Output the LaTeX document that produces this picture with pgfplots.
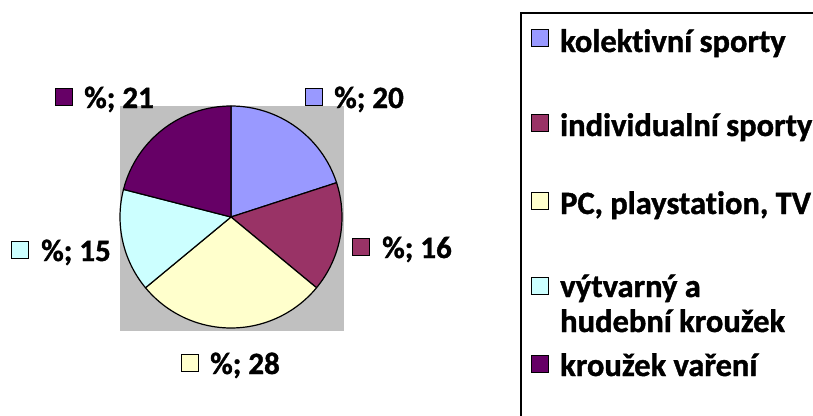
\documentclass[border=0pt]{standalone}
\usepackage{pgfplots}
\usepackage{pgfplotstable}
\pgfplotsset{compat=1.18}
\usepackage{fontspec}
\setmainfont[Ligatures=NoCommon, BoldFeatures={FakeBold=1.2}]{Carlito}
\definecolor{cKol}{HTML}{9999FF}
\definecolor{cInd}{HTML}{993366}
\definecolor{cPC}{HTML}{FFFFCC}
\definecolor{cVyt}{HTML}{CCFFFF}
\definecolor{cVar}{HTML}{660066}
\definecolor{plotgray}{HTML}{C0C0C0}

% share in %, clockwise from 12 o'clock
\pgfplotstableread{
val col
20 cKol
16 cInd
28 cPC
15 cVyt
21 cVar
}\piedata

\begin{document}
\begin{tikzpicture}[font=\fontsize{31}{37}\selectfont\bfseries,
  key/.style={draw=black, line width=1.3pt, minimum size=17pt, inner sep=0pt, anchor=south west},
  lbl/.style={anchor=base west, inner sep=0pt},
  leg/.style={anchor=base west, inner sep=0pt, font=\fontsize{32.5}{39}\selectfont\bfseries}]
\begin{axis}[width=813pt, height=415pt, scale only axis,
  xmin=0, xmax=813, ymin=0, ymax=415, y dir=reverse,
  hide axis, clip=false]
  % plot area
  \fill[plotgray] (axis cs:120,106) rectangle (axis cs:344,331);
  \pgfplotsextra{
    \gdef\angA{90}
    \foreach \i in {0,...,4}{
      \pgfplotstablegetelem{\i}{val}\of\piedata \let\v\pgfplotsretval
      \pgfplotstablegetelem{\i}{col}\of\piedata \let\c\pgfplotsretval
      \pgfmathsetmacro\angB{\angA-3.6*\v}
      \filldraw[fill=\c, draw=black, line width=1.2pt, line join=round]
        (axis cs:231,217) -- ++(\angA:111pt)
        arc[start angle=\angA, end angle=\angB, radius=111pt] -- cycle;
      \xdef\angA{\angB}
    }
  }
  % data labels
  \node[key, fill=cKol] at (axis cs:305,106) {};
  \node[lbl] at (axis cs:334,108) {\%; 20};
  \node[key, fill=cVar] at (axis cs:55,106) {};
  \node[lbl] at (axis cs:84,108) {\%; 21};
  \node[key, fill=cVyt] at (axis cs:11,259) {};
  \node[lbl] at (axis cs:41,261) {\%; 15};
  \node[key, fill=cInd] at (axis cs:352,256) {};
  \node[lbl] at (axis cs:382,258) {\%; 16};
  \node[key, fill=cPC] at (axis cs:181,372) {};
  \node[lbl] at (axis cs:210,374) {\%; 28};
  % legend
  \draw[line width=1.8pt] (axis cs:830,13) -- (axis cs:521,13) -- (axis cs:521,430);
  \node[key, fill=cKol] at (axis cs:531,47) {};
  \node[leg] at (axis cs:560,52) {kolektivní sporty};
  \node[key, fill=cInd] at (axis cs:531,132) {};
  \node[leg] at (axis cs:560,136) {individualní sporty};
  \node[key, fill=cPC] at (axis cs:531,210) {};
  \node[leg] at (axis cs:560,214) {PC, playstation, TV};
  \node[key, fill=cVyt] at (axis cs:531,295) {};
  \node[leg] at (axis cs:560,297) {výtvarný a};
  \node[leg] at (axis cs:560,332) {hudební kroužek};
  \node[key, fill=cVar] at (axis cs:531,373) {};
  \node[leg] at (axis cs:560,376) {kroužek vaření};
\end{axis}
\pgfresetboundingbox
\path (0,0) rectangle (813pt,415pt);
\end{tikzpicture}
\end{document}
